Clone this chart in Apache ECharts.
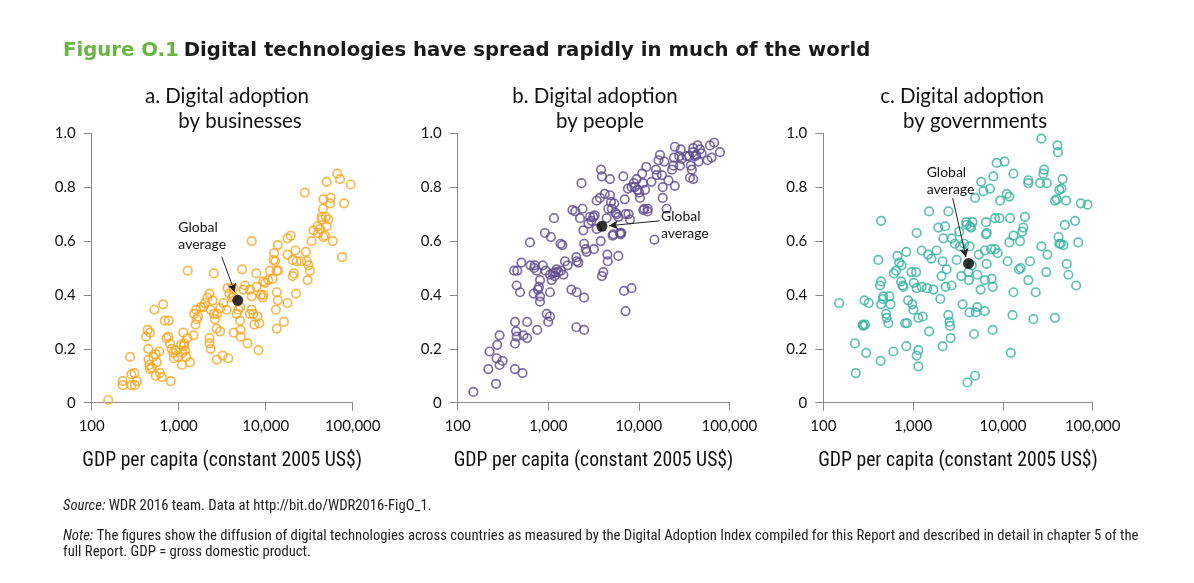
<!DOCTYPE html>
<html>
<head>
<meta charset="utf-8">
<script src="https://cdn.jsdelivr.net/npm/echarts@6/dist/echarts.min.js"></script>
<style>
html,body{margin:0;padding:0;background:#fff;}
#chart{width:1194px;height:583px;}
</style>
</head>
<body>
<div id="chart"></div>
<script>
// ---- tick labels / axis ----
var xTicks = [100, 1000, 10000, 100000];
var yTicks = [0, 0.2, 0.4, 0.6, 0.8, 1.0];

// ---- panel a: businesses [GDP per capita, index] ----
var businesses = [
[155,0.01],[227,0.08],[227,0.065],[276,0.17],[285,0.105],[310,0.11],[285,0.065],[312,0.065],[330,0.08],
[422,0.245],[440,0.27],[468,0.26],[447,0.2],[450,0.16],[460,0.14],[468,0.125],[490,0.13],[511,0.17],
[545,0.18],[560,0.15],[525,0.345],[545,0.1],[610,0.11],[640,0.095],[662,0.365],[690,0.305],[770,0.305],
[725,0.24],[760,0.245],[795,0.22],[830,0.2],[810,0.08],[870,0.185],[885,0.165],[930,0.195],[980,0.17],
[1060,0.215],[1090,0.14],[1110,0.185],[1130,0.26],[1160,0.22],[1190,0.195],[1220,0.17],[1260,0.24],
[1350,0.15],[1270,0.49],[1480,0.25],[1560,0.29],[1610,0.31],[1590,0.345],[1670,0.32],[1790,0.355],
[1920,0.355],[2000,0.37],[2130,0.39],[2260,0.405],[2330,0.345],[2460,0.38],[2530,0.33],[2600,0.31],
[2260,0.24],[2260,0.22],[2330,0.2],[2735,0.275],[2990,0.265],[2530,0.48],[2735,0.16],[3200,0.175],
[3720,0.165],[3260,0.37],[3560,0.345],[3650,0.425],[3830,0.405],[4100,0.39],[4245,0.395],[4300,0.26],
[4640,0.33],[4850,0.345],[5070,0.305],[5150,0.27],[5150,0.245],[5350,0.495],[5540,0.42],[5780,0.435],
[6180,0.22],[6600,0.42],[6900,0.395],[6900,0.6],[6900,0.345],[7210,0.33],[7400,0.29],[7800,0.48],
[7880,0.43],[8050,0.32],[8250,0.195],[8450,0.295],[8800,0.4],[9200,0.39],[9400,0.45],[9850,0.445],
[10700,0.455],[11200,0.49],[12000,0.46],[12500,0.555],[12900,0.525],[13400,0.49],[13800,0.585],
[13400,0.41],[13800,0.38],[13100,0.345],[13400,0.275],[16200,0.3],[13900,0.49],[17800,0.61],[19400,0.62],
[17800,0.55],[17800,0.37],[20400,0.53],[21900,0.565],[22700,0.525],[20400,0.47],[21100,0.48],[22300,0.405],
[25700,0.525],[29000,0.56],[29600,0.525],[30300,0.455],[31000,0.51],[32300,0.49],[33700,0.6],[28100,0.78],
[39500,0.655],[42100,0.645],[44000,0.68],[45500,0.72],[46000,0.615],[48000,0.62],[50200,0.655],[52500,0.68],
[46000,0.755],[50200,0.82],[55800,0.76],[54900,0.74],[59000,0.6],[66600,0.85],[71500,0.83],[79700,0.74],
[75500,0.54],[95000,0.81],[44000,0.69],[49000,0.69],[4245,0.425],[6600,0.33],[9400,0.4],[3000,0.35],
[1500,0.33],[1150,0.21],[600,0.19],[12300,0.53],[2750,0.33],[5100,0.355],[35500,0.64],[40000,0.63]
];
var bizAvg = [4770, 0.38];

// ---- panel b: people ----
var people = [
[149,0.04],[218,0.125],[225,0.19],[265,0.07],[269,0.165],[273,0.215],[290,0.25],[290,0.14],[313,0.155],
[428,0.125],[430,0.3],[430,0.22],[442,0.265],[448,0.245],[455,0.49],[420,0.49],[448,0.435],[488,0.41],
[520,0.11],[531,0.25],[585,0.3],[585,0.24],[505,0.52],[629,0.595],[637,0.51],[690,0.405],[710,0.51],
[745,0.49],[755,0.27],[770,0.42],[790,0.43],[811,0.455],[811,0.395],[811,0.375],[870,0.51],[920,0.63],
[935,0.49],[961,0.33],[1000,0.3],[1046,0.32],[1046,0.41],[1046,0.475],[1070,0.615],[1090,0.455],[1125,0.48],
[1160,0.685],[1200,0.485],[1239,0.495],[1300,0.485],[1370,0.59],[1430,0.585],[1390,0.49],[1468,0.475],
[1530,0.525],[1640,0.51],[1800,0.42],[1850,0.715],[1990,0.71],[2040,0.54],[2061,0.525],[2040,0.28],
[2061,0.41],[2150,0.52],[2243,0.685],[2330,0.815],[2390,0.72],[2442,0.64],[2490,0.39],[2490,0.27],
[2490,0.59],[2600,0.57],[2658,0.56],[2780,0.665],[2893,0.69],[3149,0.69],[3200,0.57],[3260,0.695],
[3428,0.75],[3428,0.645],[3731,0.76],[3800,0.6],[3830,0.865],[3920,0.84],[3920,0.47],[4061,0.485],
[4200,0.775],[4420,0.685],[4500,0.55],[4540,0.525],[4600,0.72],[4811,0.83],[4811,0.77],[4930,0.745],
[5040,0.72],[5150,0.62],[5237,0.625],[5340,0.74],[5530,0.705],[5700,0.7],[5950,0.69],[5950,0.545],
[6200,0.63],[6300,0.625],[6420,0.63],[6750,0.84],[6880,0.415],[7000,0.755],[7150,0.7],[7150,0.34],
[7580,0.795],[7700,0.7],[8000,0.68],[8330,0.425],[8330,0.8],[8800,0.815],[9480,0.83],[9700,0.79],
[10100,0.78],[10310,0.76],[10900,0.85],[11100,0.815],[11230,0.715],[11500,0.72],[11750,0.79],[12100,0.875],
[12550,0.72],[13800,0.82],[14900,0.605],[15500,0.865],[15760,0.845],[16500,0.9],[17150,0.92],[18000,0.845],
[18400,0.8],[18400,0.76],[19200,0.895],[20300,0.72],[21300,0.825],[23300,0.865],[24070,0.88],[24500,0.91],
[25000,0.95],[25000,0.805],[28000,0.915],[28500,0.88],[29100,0.94],[29800,0.905],[33780,0.915],[36100,0.915],
[36770,0.835],[37500,0.88],[38600,0.865],[39600,0.93],[40020,0.945],[42000,0.915],[43000,0.92],[44600,0.955],
[45800,0.895],[47410,0.94],[49500,0.925],[57500,0.9],[61120,0.955],[63700,0.91],[68000,0.965],[78810,0.93],
[40020,0.83],[12500,0.71],[9000,0.8],[3000,0.675],[1180,0.47],[700,0.5]
];
var peopleAvg = [3920, 0.655];

// ---- panel c: governments ----
var governments = [
[150,0.37],[225,0.22],[230,0.11],[275,0.29],[279,0.285],[291,0.29],[287,0.38],[300,0.185],[320,0.37],
[410,0.53],[428,0.435],[440,0.45],[440,0.675],[435,0.155],[440,0.365],[460,0.385],[466,0.395],[500,0.33],
[508,0.315],[530,0.295],[545,0.395],[602,0.19],[612,0.48],[645,0.49],[670,0.545],[700,0.52],[745,0.51],
[735,0.45],[765,0.435],[779,0.43],[815,0.295],[840,0.56],[840,0.21],[855,0.295],[880,0.38],[960,0.485],
[980,0.365],[1006,0.345],[1020,0.445],[1080,0.485],[1096,0.63],[1096,0.425],[1096,0.175],[1143,0.195],
[1143,0.315],[1143,0.135],[1245,0.565],[1280,0.32],[1430,0.425],[1470,0.55],[1510,0.71],[1510,0.265],
[1600,0.535],[1680,0.42],[1830,0.565],[1910,0.65],[2010,0.385],[2070,0.47],[2130,0.525],[2130,0.21],
[2171,0.61],[2270,0.655],[2366,0.495],[2470,0.71],[2470,0.325],[2540,0.3],[2577,0.285],[2620,0.24],
[2690,0.61],[2690,0.435],[2920,0.59],[3058,0.53],[3260,0.635],[3330,0.58],[3440,0.47],[3560,0.365],
[3700,0.59],[3900,0.67],[3952,0.66],[4030,0.075],[4140,0.485],[4180,0.455],[4250,0.58],[4250,0.335],
[4305,0.655],[4420,0.65],[4580,0.67],[4500,0.51],[4770,0.255],[4900,0.76],[4900,0.1],[5000,0.335],
[5180,0.355],[5180,0.475],[5380,0.55],[5640,0.42],[5720,0.82],[6060,0.785],[6300,0.565],[6300,0.34],
[6300,0.455],[6480,0.625],[6480,0.67],[6600,0.63],[6600,0.515],[7190,0.795],[7400,0.57],[7500,0.46],
[7700,0.43],[7700,0.27],[7835,0.84],[8170,0.685],[8170,0.57],[8535,0.89],[8750,0.555],[9150,0.685],
[9300,0.75],[10450,0.895],[11030,0.775],[11270,0.525],[11800,0.765],[11800,0.595],[12020,0.685],[12250,0.185],
[12800,0.325],[13100,0.62],[13090,0.41],[13090,0.85],[15100,0.495],[15530,0.6],[15800,0.5],[16400,0.635],
[16920,0.65],[17600,0.69],[19200,0.825],[19200,0.815],[19200,0.455],[20080,0.525],[21870,0.31],[23200,0.41],
[26800,0.58],[26800,0.98],[25950,0.815],[28270,0.85],[28800,0.865],[30400,0.485],[30790,0.815],[31300,0.55],
[38000,0.315],[38000,0.75],[39800,0.755],[40500,0.955],[41000,0.93],[41600,0.615],[42500,0.79],[42500,0.59],
[44000,0.59],[45000,0.795],[46200,0.83],[47220,0.585],[49000,0.66],[50500,0.75],[51440,0.515],[53700,0.475],
[63700,0.675],[65400,0.435],[69000,0.595],[73800,0.74],[87600,0.735],[560,0.365],[1250,0.43],[2300,0.43]
];
var govAvg = [4140, 0.517];

// ---- annotation anchors (data coordinates) ----
var bizLabelAt = [990, 0.62], bizArrow = [[3120, 0.542], [4420, 0.41]];
var peopleLabelAt = [17600, 0.659], peopleArrow = [[17000, 0.675], [4700, 0.657]];
var govLabelAt = [1416, 0.823], govArrow = [[2760, 0.76], [3880, 0.54]];

var COLORS = ['#F5A623', '#5E4A8C', '#35B3A0'];
var FONT = 'Lato, "Open Sans", sans-serif';
var TITLEFONT = '"DejaVu Sans", sans-serif';
var NARROW = '"Roboto Condensed", "Liberation Sans Narrow", Roboto, sans-serif';

var grids = [
  {left: 91.7, top: 133.3, width: 261, height: 269.4},
  {left: 457.7, top: 133.3, width: 271.6, height: 269.4},
  {left: 823.3, top: 133.3, width: 269.4, height: 269.4}
];

function xAxis(i) {
  return {
    gridIndex: i, type: 'log', logBase: 10, min: xTicks[0], max: xTicks[xTicks.length - 1],
    name: 'GDP per capita (constant 2005 US$)', nameLocation: 'middle', nameGap: 48,
    nameTextStyle: {fontFamily: NARROW, fontSize: 19.7, color: '#111'},
    axisLine: {lineStyle: {color: '#8a8a8a', width: 1}},
    axisTick: {show: true, length: 8, lineStyle: {color: '#8a8a8a'}},
    splitLine: {show: false}, minorTick: {show: false},
    axisLabel: {margin: 16, fontFamily: FONT, fontSize: 15, color: '#111',
      formatter: function (v) { return Math.round(v).toLocaleString('en-US'); }}
  };
}
function yAxis(i) {
  return {
    gridIndex: i, type: 'value', min: yTicks[0], max: yTicks[yTicks.length - 1], interval: 0.2,
    axisLine: {show: true, lineStyle: {color: '#8a8a8a', width: 1}},
    axisTick: {show: true, length: 8, lineStyle: {color: '#8a8a8a'}},
    splitLine: {show: false},
    axisLabel: {margin: 16, fontFamily: FONT, fontSize: 15, color: '#111',
      formatter: function (v) { return v === 0 ? '0' : v.toFixed(1); }}
  };
}
function pointsSeries(i, data) {
  return {
    type: 'scatter', xAxisIndex: i, yAxisIndex: i, data: data, symbol: 'circle', symbolSize: 8.5,
    itemStyle: {color: 'rgba(255,255,255,0)', borderColor: COLORS[i], borderWidth: 1.7},
    silent: true, z: 2
  };
}
function avgSeries(i, avg, labelAt, arrow) {
  return {
    type: 'scatter', xAxisIndex: i, yAxisIndex: i, data: [avg], symbol: 'circle', symbolSize: 11,
    itemStyle: {color: '#000'}, silent: true, z: 5,
    markPoint: {
      silent: true, symbol: 'circle', symbolSize: 0,
      data: [{coord: labelAt}],
      label: {show: true, position: 'right', distance: 0, formatter: 'Global\naverage',
        fontFamily: FONT, fontSize: 14, lineHeight: 17, color: '#111', align: 'left'}
    },
    markLine: {
      silent: true, symbol: ['none', 'arrow'], symbolSize: [7, 9], animation: false,
      lineStyle: {color: '#222', width: 1, type: 'solid'}, label: {show: false},
      data: [[{coord: arrow[0]}, {coord: arrow[1]}]]
    }
  };
}

var SUB = {fontFamily: FONT, fontWeight: 'normal', fontSize: 20.5, color: '#111'};
var NOTE = {fontFamily: NARROW, fontWeight: 'normal', fontSize: 14.7, lineHeight: 16.5, color: '#222'};
var NOTE_I = {fontFamily: NARROW, fontStyle: 'italic', fontSize: 14.7, lineHeight: 16.5, color: '#222'};
var titles = [
  {left: 63, top: 41, padding: 0, text: '{g|Figure O.1} {b|Digital technologies have spread rapidly in much of the world}',
   textStyle: {rich: {
     g: {fontFamily: TITLEFONT, fontWeight: 'bold', fontSize: 19.7, color: '#6AB445'},
     b: {fontFamily: TITLEFONT, fontWeight: 'bold', fontSize: 19.7, color: '#1a1a1a'}}}},
  {left: 227, top: 86, padding: 0, textAlign: 'center', text: 'a. Digital adoption', textStyle: SUB},
  {left: 240, top: 111, padding: 0, textAlign: 'center', text: 'by businesses', textStyle: SUB},
  {left: 595, top: 86, padding: 0, textAlign: 'center', text: 'b. Digital adoption', textStyle: SUB},
  {left: 600, top: 111, padding: 0, textAlign: 'center', text: 'by people', textStyle: SUB},
  {left: 962, top: 86, padding: 0, textAlign: 'center', text: 'c. Digital adoption', textStyle: SUB},
  {left: 975, top: 111, padding: 0, textAlign: 'center', text: 'by governments', textStyle: SUB},
  {left: 63, top: 498, padding: 0, text: '{i|Source:} WDR 2016 team. Data at http://bit.do/WDR2016-FigO_1.',
   textStyle: Object.assign({}, NOTE, {rich: {i: NOTE_I}})},
  {left: 63, top: 528, padding: 0, text: '{i|Note:} The figures show the diffusion of digital technologies across countries as measured by the Digital Adoption Index compiled for this Report and described in detail in chapter 5 of the\nfull Report. GDP = gross domestic product.',
   textStyle: Object.assign({}, NOTE, {rich: {i: NOTE_I}})}
];

var chart = echarts.init(document.getElementById('chart'), null, {renderer: 'canvas'});
chart.setOption({
  backgroundColor: '#fff',
  animation: false,
  title: titles,
  grid: grids,
  xAxis: [xAxis(0), xAxis(1), xAxis(2)],
  yAxis: [yAxis(0), yAxis(1), yAxis(2)],
  series: [
    pointsSeries(0, businesses), pointsSeries(1, people), pointsSeries(2, governments),
    avgSeries(0, bizAvg, bizLabelAt, bizArrow),
    avgSeries(1, peopleAvg, peopleLabelAt, peopleArrow),
    avgSeries(2, govAvg, govLabelAt, govArrow)
  ]
});
</script>
</body>
</html>
